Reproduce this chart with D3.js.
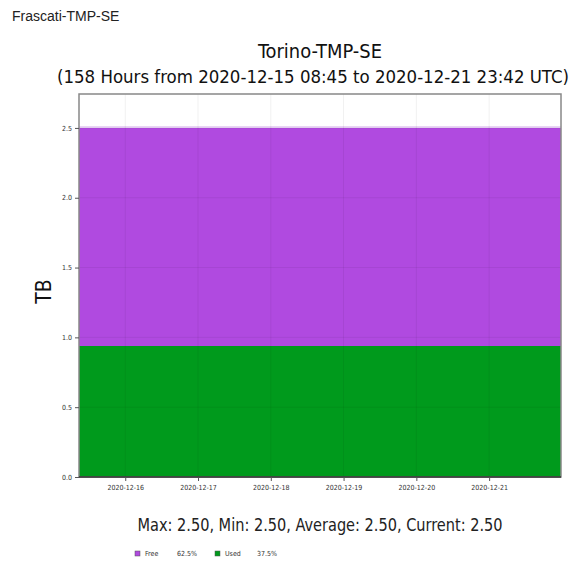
<!DOCTYPE html>
<html>
<head>
<meta charset="utf-8">
<script src="https://cdn.jsdelivr.net/npm/d3@7"></script>
<style>
  body { margin: 0; background: #fff; }
  svg { display: block; }
  .cond { font-family: "DejaVu Sans Condensed", "DejaVu Sans", sans-serif; font-stretch: condensed; }
</style>
</head>
<body>
<svg width="574" height="565"></svg>
<script>
// series data (TB), sampled at start and end of the window
var times = ["2020-12-15T08:45:00Z", "2020-12-21T23:42:00Z"];
var usedValues = [0.9375, 0.9375];
var freeValues = [1.5625, 1.5625];
var yTicks = [0, 0.5, 1.0, 1.5, 2.0, 2.5];
var xTickDays = ["2020-12-16", "2020-12-17", "2020-12-18", "2020-12-19", "2020-12-20", "2020-12-21"];
var legendNames = ["Free", "Used"];
var legendPct = ["62.5%", "37.5%"];

var colors = { Free: "#b04ae0", Used: "#009a1c" };

var svg = d3.select("svg");
var plotLeft = 79, plotRight = 561, plotTop = 94, plotBottom = 477;

var parse = d3.utcParse("%Y-%m-%dT%H:%M:%SZ");
var tDates = times.map(parse);
var dayParse = d3.utcParse("%Y-%m-%d");

var x = d3.scaleUtc().domain([tDates[0], tDates[tDates.length - 1]]).range([plotLeft, plotRight]);
var y = d3.scaleLinear().domain([0, 2.743]).range([plotBottom, plotTop]);

var rows = tDates.map(function(d, i) {
  return { t: d, Used: usedValues[i], Free: freeValues[i] };
});
var stack = d3.stack().keys(["Used", "Free"]);
var layers = stack(rows);

var area = d3.area()
  .x(function(d) { return x(d.data.t); })
  .y0(function(d) { return y(d[0]); })
  .y1(function(d) { return y(d[1]); });

svg.append("g").selectAll("path")
  .data(layers)
  .enter().append("path")
  .attr("d", area)
  .attr("fill", function(d) { return colors[d.key]; });

// light top edge of the stack
svg.append("path")
  .datum(layers[1])
  .attr("d", d3.line().x(function(d) { return x(d.data.t); }).y(function(d) { return y(d[1]) - 1; }))
  .attr("fill", "none")
  .attr("stroke", "#e2c6f2")
  .attr("stroke-width", 1.5);

// grid
var grid = svg.append("g").attr("stroke", "#000").attr("stroke-opacity", 0.06);
grid.selectAll(".vx").data(xTickDays).enter().append("line")
  .attr("x1", function(d) { return x(dayParse(d)); })
  .attr("x2", function(d) { return x(dayParse(d)); })
  .attr("y1", plotTop).attr("y2", plotBottom);
grid.selectAll(".hy").data(yTicks.slice(1)).enter().append("line")
  .attr("x1", plotLeft).attr("x2", plotRight)
  .attr("y1", function(d) { return y(d); })
  .attr("y2", function(d) { return y(d); });

// frame
svg.append("rect")
  .attr("x", plotLeft).attr("y", plotTop)
  .attr("width", plotRight - plotLeft).attr("height", plotBottom - plotTop)
  .attr("fill", "none").attr("stroke", "#888").attr("stroke-width", 1.5);
svg.append("line")
  .attr("x1", plotLeft).attr("x2", plotRight).attr("y1", plotBottom).attr("y2", plotBottom)
  .attr("stroke", "#333").attr("stroke-width", 1.5);

// axes
var yAxis = d3.axisLeft(y).tickValues(yTicks).tickFormat(d3.format(".1f")).tickSize(4).tickSizeOuter(0);
var yg = svg.append("g").attr("transform", "translate(" + plotLeft + ",0)").call(yAxis);
yg.select(".domain").remove();
yg.selectAll("text").attr("class", "cond").style("font-size", "7px").attr("fill", "#333");
yg.selectAll("line").attr("stroke", "#555");

var xAxis = d3.axisBottom(x).tickValues(xTickDays.map(dayParse)).tickFormat(d3.utcFormat("%Y-%m-%d")).tickSize(4).tickSizeOuter(0);
var xg = svg.append("g").attr("transform", "translate(0," + plotBottom + ")").call(xAxis);
xg.select(".domain").remove();
xg.selectAll("text").attr("class", "cond").style("font-size", "7px").attr("fill", "#333").attr("dy", "0.9em");
xg.selectAll("line").attr("stroke", "#555");

// texts
svg.append("text").attr("x", 12).attr("y", 21)
  .style("font-family", "'Liberation Sans', Arial, sans-serif").style("font-size", "14px")
  .attr("fill", "#222").text("Frascati-TMP-SE");

var cx = (plotLeft + plotRight) / 2;
svg.append("text").attr("class", "cond").attr("x", cx).attr("y", 58)
  .attr("text-anchor", "middle").style("font-size", "19px").attr("fill", "#111")
  .attr("textLength", 124).attr("lengthAdjust", "spacingAndGlyphs")
  .text("Torino-TMP-SE");
svg.append("text").attr("class", "cond").attr("x", 313).attr("y", 83)
  .attr("text-anchor", "middle").style("font-size", "18px").attr("fill", "#111")
  .attr("textLength", 512).attr("lengthAdjust", "spacingAndGlyphs")
  .text("(158 Hours from 2020-12-15 08:45 to 2020-12-21 23:42 UTC)");

svg.append("text").attr("class", "cond")
  .attr("transform", "translate(51," + ((plotTop + plotBottom) / 2 + 6) + ") rotate(-90)")
  .attr("text-anchor", "middle").style("font-size", "21px").attr("fill", "#111")
  .text("TB");

svg.append("text").attr("class", "cond").attr("x", cx).attr("y", 531)
  .attr("text-anchor", "middle").style("font-size", "17px").attr("fill", "#222")
  .attr("textLength", 365).attr("lengthAdjust", "spacingAndGlyphs")
  .text("Max: 2.50, Min: 2.50, Average: 2.50, Current: 2.50");

// legend
var legX = [135, 215];
var leg = svg.append("g").selectAll("g").data(legendNames).enter().append("g")
  .attr("transform", function(d, i) { return "translate(" + legX[i] + ",556)"; });
leg.append("rect").attr("x", 0).attr("y", -5).attr("width", 5).attr("height", 5)
  .attr("fill", function(d) { return colors[d]; }).attr("stroke", "#555").attr("stroke-width", 0.5);
leg.append("text").attr("class", "cond").attr("x", 10).attr("y", 0)
  .style("font-size", "7px").attr("fill", "#333").text(function(d) { return d; });
leg.append("text").attr("class", "cond").attr("x", 42).attr("y", 0)
  .style("font-size", "7px").attr("fill", "#333").text(function(d, i) { return legendPct[i]; });
</script>
</body>
</html>
